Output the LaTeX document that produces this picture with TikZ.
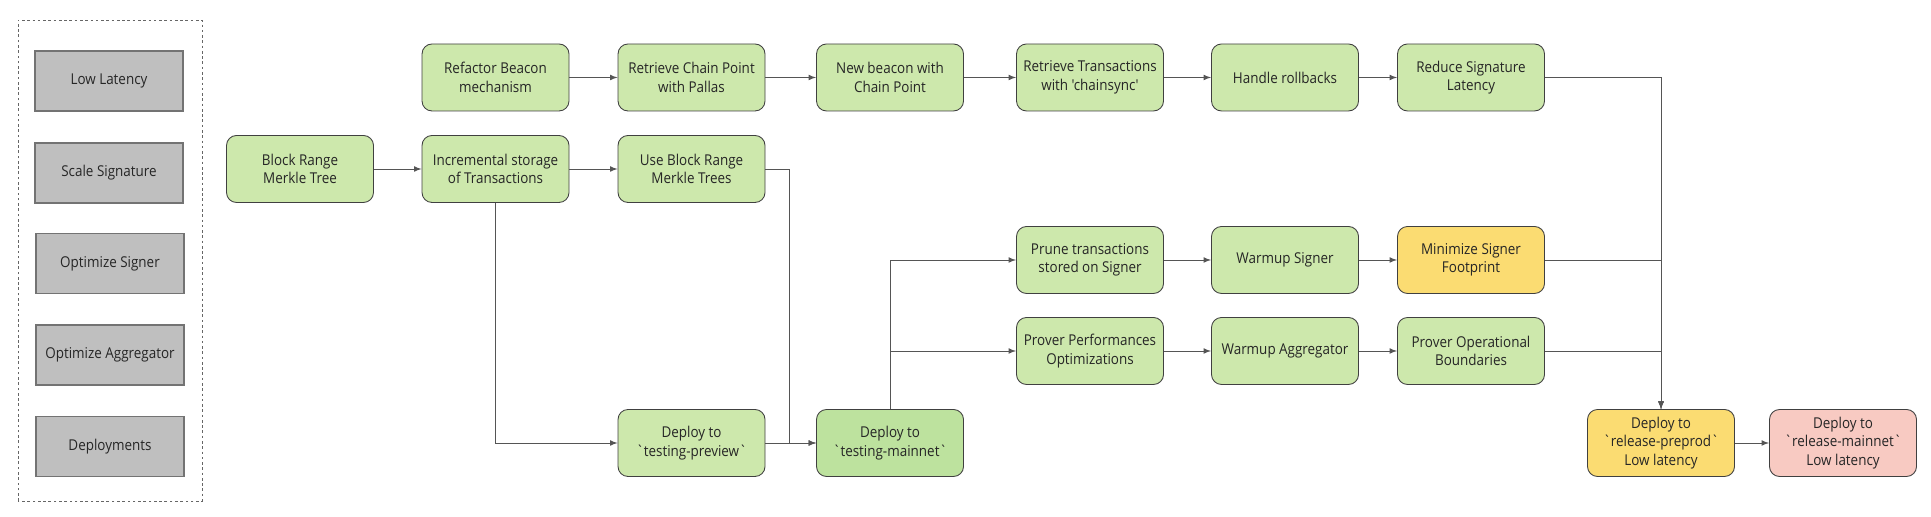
\documentclass[tikz,border=0pt]{standalone}
\usepackage{fontspec}
\setmainfont{Open Sans}[Ligatures=TeXOff,FakeStretch=0.9]
\usepackage{tikz}

\definecolor{taskgreen}{HTML}{CDE8AC}
\definecolor{deploygreen}{HTML}{BDE29E}
\definecolor{taskyellow}{HTML}{FBDC72}
\definecolor{taskred}{HTML}{F8CAC2}
\definecolor{legendgrey}{HTML}{BFBFBF}
\definecolor{wire}{HTML}{555555}

\begin{document}
\begin{tikzpicture}[
    task/.style={draw=black!75, line width=0.5pt, rounded corners=0.2cm, fill=taskgreen,
      minimum width=2.94cm, minimum height=1.34cm, align=center, inner sep=2pt,
      text=black!85, font=\fontsize{8.5}{10.6}\selectfont},
    legend/.style={draw=black!55, line width=0.7pt, fill=legendgrey, minimum width=2.96cm,
      minimum height=1.2cm, text=black!85, font=\fontsize{8.5}{10.6}\selectfont},
    flow/.style={draw=wire, line width=0.5pt, -latex}]
  \useasboundingbox (0,0) rectangle (38.62,10.34);

  % legend
  \draw[black!60, dash pattern=on 1.5pt off 1.5pt] (0.36,0.32) rectangle (4.04,9.94);
  \node[legend] (lowlat) at (2.18,8.72) {Low Latency};
  \node[legend] (scalesig) at (2.18,6.88) {Scale Signature};
  \node[legend] (optsigner) at (2.20,5.07) {Optimize Signer};
  \node[legend] (optaggr) at (2.20,3.24) {Optimize Aggregator};
  \node[legend] (deploys) at (2.20,1.41) {Deployments};

  % low latency track
  \node[task] (refactor) at (9.91,8.79) {Refactor Beacon\\mechanism};
  \node[task] (chainpoint) at (13.83,8.79) {Retrieve Chain Point\\with Pallas};
  \node[task] (beacon) at (17.8,8.79) {New beacon with\\Chain Point};
  \node[task] (chainsync) at (21.8,8.79) {Retrieve Transactions\\with 'chainsync'};
  \node[task] (rollbacks) at (25.7,8.79) {Handle rollbacks};
  \node[task] (reduce) at (29.42,8.79) {Reduce Signature\\Latency};

  % scale signature track
  \node[task] (blockrange) at (6.0,6.96) {Block Range\\Merkle Tree};
  \node[task] (incremental) at (9.91,6.96) {Incremental storage\\of Transactions};
  \node[task] (usetrees) at (13.83,6.96) {Use Block Range\\Merkle Trees};

  % signer / aggregator tracks
  \node[task] (prune) at (21.8,5.14) {Prune transactions\\stored on Signer};
  \node[task] (warmsigner) at (25.7,5.14) {Warmup Signer};
  \node[task, fill=taskyellow] (footprint) at (29.42,5.14) {Minimize Signer\\Footprint};
  \node[task] (proverperf) at (21.8,3.32) {Prover Performances\\Optimizations};
  \node[task] (warmaggr) at (25.7,3.32) {Warmup Aggregator};
  \node[task] (proverops) at (29.42,3.32) {Prover Operational\\Boundaries};

  % deployments
  \node[task] (preview) at (13.83,1.48) {Deploy to\\`testing-preview`};
  \node[task, fill=deploygreen] (testmain) at (17.8,1.48) {Deploy to\\`testing-mainnet`};
  \node[task, fill=taskyellow] (preprod) at (33.22,1.48) {Deploy to\\`release-preprod`\\Low latency};
  \node[task, fill=taskred] (relmain) at (36.86,1.48) {Deploy to\\`release-mainnet`\\Low latency};

  \draw[flow] (refactor) -- (chainpoint);
  \draw[flow] (chainpoint) -- (beacon);
  \draw[flow] (beacon) -- (chainsync);
  \draw[flow] (chainsync) -- (rollbacks);
  \draw[flow] (rollbacks) -- (reduce);

  \draw[flow] (blockrange) -- (incremental);
  \draw[flow] (incremental) -- (usetrees);
  \draw[flow] (incremental) |- (preview);
  \draw[flow] (usetrees.east) -- ++(0.48,0) |- (testmain.west);
  \draw[flow] (preview) -- (testmain);

  \draw[flow] (testmain) |- (prune);
  \draw[flow] (testmain) |- (proverperf);
  \draw[flow] (prune) -- (warmsigner);
  \draw[flow] (warmsigner) -- (footprint);
  \draw[flow] (proverperf) -- (warmaggr);
  \draw[flow] (warmaggr) -- (proverops);

  \draw[flow] (reduce) -| (preprod);
  \draw[flow] (footprint) -| (preprod);
  \draw[flow] (proverops) -| (preprod);
  \draw[flow] (preprod) -- (relmain);
\end{tikzpicture}
\end{document}
